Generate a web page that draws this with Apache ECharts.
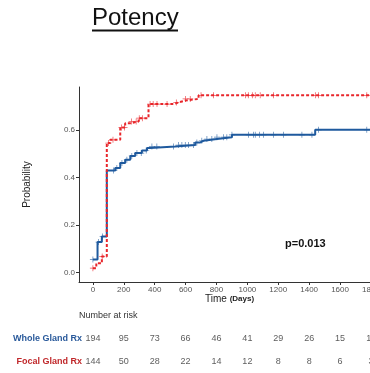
<!DOCTYPE html>
<html>
<head>
<meta charset="utf-8">
<script src="https://cdn.jsdelivr.net/npm/echarts@6/dist/echarts.min.js"></script>
<style>
html,body{margin:0;padding:0;background:#fff;}
#chart{width:370px;height:373px;}
</style>
</head>
<body>
<div id="chart"></div>
<script>
// ---- data ----
var wholeTimes = [0, 30, 58, 90, 145, 177, 209, 242, 274, 317, 350, 371, 533, 662, 695, 716, 803, 900, 1439, 1850];
var wholeProb  = [0.055, 0.128, 0.151, 0.429, 0.439, 0.46, 0.474, 0.49, 0.502, 0.513, 0.523, 0.53, 0.536, 0.547, 0.554, 0.561, 0.569, 0.579, 0.6, 0.6];
var focalTimes = [0, 22, 58, 90, 112, 177, 209, 242, 296, 360, 522, 555, 598, 684, 1850];
var focalProb  = [0.018, 0.039, 0.067, 0.544, 0.558, 0.61, 0.628, 0.635, 0.649, 0.708, 0.715, 0.723, 0.73, 0.745, 0.745];
var wholeCensor = [0, 37, 63, 134, 155, 188, 220, 252, 285, 313, 345, 382, 414, 522, 554, 576, 598, 619, 652, 673, 705, 738, 770, 803, 846, 867, 900, 1008, 1040, 1051, 1079, 1105, 1169, 1234, 1353, 1418, 1461, 1773];
var focalCensor = [0, 60, 100, 130, 185, 205, 250, 280, 300, 320, 370, 390, 415, 480, 540, 600, 630, 700, 781, 987, 1006, 1032, 1051, 1083, 1169, 1440, 1460, 1773];
var riskTimes = [0, 200, 400, 600, 800, 1000, 1200, 1400, 1600, 1800];
var wholeRisk = [194, 95, 73, 66, 46, 41, 29, 26, 15, 11];
var focalRisk = [144, 50, 28, 22, 14, 12, 8, 8, 6, 3];
var xTicks = [0, 200, 400, 600, 800, 1000, 1200, 1400, 1600, 1800];
var yTicks = [0, 0.2, 0.4, 0.6];
var groups = ['Whole Gland Rx', 'Focal Gland Rx'];

var BLUE = '#1f5a9e', RED = '#e8262b';

function pairs(xs, ys){ return xs.map(function(x,i){ return [x, ys[i]]; }); }
function stepAt(xs, ys, t){ var v = ys[0]; for (var i=0;i<xs.length;i++){ if (xs[i] <= t) v = ys[i]; } return v; }
function censorPts(ct, xs, ys){ return ct.map(function(t){ return [t, stepAt(xs, ys, t)]; }); }

var plus = 'path://M4.4,0h1.2v10h-1.2zM0,4.4h10v1.2h-10z';
var FONT = '"Liberation Sans", Arial, sans-serif';

var chart = echarts.init(document.getElementById('chart'), null, {renderer:'canvas'});
chart.setOption({
  animation: false,
  textStyle: {fontFamily: FONT},
  grid: [
    {left: 79, top: 87, width: 321, height: 195, outerBoundsMode:'none', containLabel:false},
    {left: 79, top: 327.5, width: 321, height: 46, outerBoundsMode:'none', containLabel:false}
  ],
  xAxis: [
    {type:'value', gridIndex:0, min:-90, max:1988,
     axisLine:{show:true, onZero:false, lineStyle:{color:'#333', width:1}},
     axisTick:{show:true, length:3, customValues:xTicks, lineStyle:{color:'#333'}},
     axisLabel:{customValues:xTicks, fontSize:8, color:'#555', margin:4,
       formatter:function(v){ return String(v); }},
     splitLine:{show:false}},
    {type:'value', gridIndex:1, min:-90, max:1988, show:false}
  ],
  yAxis: [
    {type:'value', gridIndex:0, min:-0.04, max:0.78,
     name:'Probability', nameLocation:'middle', nameGap:47,
     nameTextStyle:{fontSize:10, color:'#222'},
     axisLine:{show:true, onZero:false, lineStyle:{color:'#333', width:1}},
     axisTick:{show:true, length:3, customValues:yTicks, lineStyle:{color:'#333'}},
     axisLabel:{customValues:yTicks, fontSize:8, color:'#555', margin:4,
       formatter:function(v){ return v.toFixed(1); }},
     splitLine:{show:false}},
    {type:'category', gridIndex:1, data:groups, inverse:true,
     axisLine:{show:false}, axisTick:{show:false},
     axisLabel:{margin:-3, fontSize:9, fontWeight:'bold',
       formatter:function(v){ return v === groups[0] ? '{w|'+v+'}' : '{f|'+v+'}'; },
       rich:{w:{color:'#2a5a9b', fontWeight:'bold', fontSize:9}, f:{color:'#c0282b', fontWeight:'bold', fontSize:9}}}}
  ],
  series: [
    {type:'line', step:'end', xAxisIndex:0, yAxisIndex:0, data:pairs(wholeTimes, wholeProb),
     showSymbol:false, lineStyle:{color:BLUE, width:2}, z:3},
    {type:'line', step:'end', xAxisIndex:0, yAxisIndex:0, data:pairs(focalTimes, focalProb),
     showSymbol:false, lineStyle:{color:RED, width:2, type:[3,2]}, z:4},
    {type:'scatter', xAxisIndex:0, yAxisIndex:0, data:censorPts(wholeCensor, wholeTimes, wholeProb),
     symbol:plus, symbolSize:6, itemStyle:{color:BLUE, opacity:0.75}, z:5},
    {type:'scatter', xAxisIndex:0, yAxisIndex:0, data:censorPts(focalCensor, focalTimes, focalProb),
     symbol:plus, symbolSize:6, itemStyle:{color:RED}, z:6},
    {type:'scatter', xAxisIndex:1, yAxisIndex:1, symbolSize:0,
     data: riskTimes.map(function(t,i){ return [t, groups[0], wholeRisk[i]]; }),
     label:{show:true, position:'inside', fontSize:9, color:'#333', formatter:function(p){ return p.value[2]; }}},
    {type:'scatter', xAxisIndex:1, yAxisIndex:1, symbolSize:0,
     data: riskTimes.map(function(t,i){ return [t, groups[1], focalRisk[i]]; }),
     label:{show:true, position:'inside', fontSize:9, color:'#333', formatter:function(p){ return p.value[2]; }}}
  ],
  graphic: [
    {type:'text', left:92, top:6, style:{text:'Potency', font:'24px "Liberation Sans", Arial, sans-serif', fill:'#111'}},
    {type:'line', shape:{x1:92, y1:30.5, x2:178, y2:30.5}, style:{stroke:'#111', lineWidth:2}},
    {type:'text', left:285, top:238, style:{text:'p=0.013', font:'bold 11px "Liberation Sans", Arial, sans-serif', fill:'#111'}},
    {type:'text', left:205, top:294, style:{rich:{a:{fontSize:10, fill:'#222', fontFamily:'Liberation Sans'}, b:{fontSize:8, fontWeight:'bold', fill:'#222', fontFamily:'Liberation Sans'}}, text:'{a|Time }{b|(Days)}'}},
    {type:'text', left:79, top:311, style:{text:'Number at risk', font:'9px "Liberation Sans", Arial, sans-serif', fill:'#333'}}
  ]
});
</script>
</body>
</html>
